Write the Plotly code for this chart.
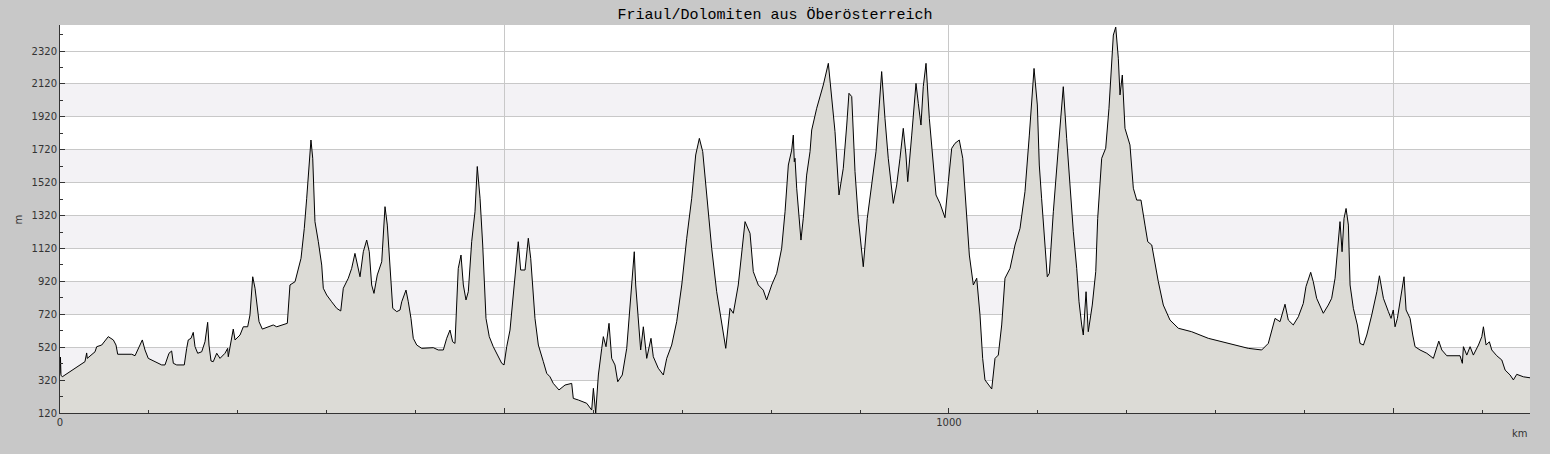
import plotly.graph_objects as go

title_text = "Friaul/Dolomiten aus Öberösterreich"

km = [0, 0.5, 1.1, 2.6, 5.6, 16.9, 28.1, 30.0, 30.7, 39.4, 41.3, 46.9, 52.5, 54.3, 60.0, 63.0, 64.9,
      80.7, 84.4, 90.0, 92.6, 95.6, 99.3, 106.9, 114.4, 118.1, 122.6, 125.6, 127.5, 131.3, 139.8,
      142.5, 144.3, 147.4, 149.9, 151.9, 154.9, 159.4, 163.1, 166.1, 167.6, 169.9, 172.4, 176.3,
      180.0, 185.6, 188.6, 189.3, 191.2, 194.9, 196.9, 202.5, 206.2, 211.1, 213.7, 216.8, 219.4,
      221.3, 223.9, 227.6, 234.3, 239.9, 243.8, 255.7, 258.7, 264.4, 271.1, 274.8, 277.5, 281.2,
      282.3, 284.3, 286.8, 290.6, 294.4, 296.2, 300.0, 305.6, 311.3, 315.8, 318.7, 324.3, 328.1,
      331.8, 334.4, 337.5, 341.2, 345.0, 347.9, 350.6, 353.2, 356.9, 361.9, 365.6, 368.2, 371.2,
      374.3, 378.8, 382.5, 384.4, 389.2, 391.8, 394.8, 397.4, 401.3, 406.9, 419.9, 425.5, 431.2,
      435.0, 438.7, 441.7, 444.3, 448.0, 451.1, 453.7, 456.7, 459.3, 463.1, 466.8, 469.4, 472.5,
      475.5, 479.2, 482.9, 487.4, 493.1, 496.9, 499.5, 502.5, 506.2, 511.8, 515.5, 518.2, 523.1,
      526.8, 529.5, 534.3, 538.1, 543.7, 547.5, 551.2, 554.9, 561.3, 568.1, 575.6, 577.4, 583.1,
      592.5, 598.1, 600.0, 602.6, 605.6, 609.4, 611.2, 614.2, 617.6, 620.6, 624.3, 627.4, 632.5,
      637.5, 642.3, 644.9, 646.0, 647.6, 650.5, 653.2, 656.2, 660.0, 664.8, 667.4, 673.0, 678.7,
      682.5, 688.1, 693.7, 699.4, 705.0, 710.6, 715.1, 719.2, 723.0, 727.5, 733.1, 738.7, 744.4,
      748.9, 753.7, 757.4, 763.0, 766.8, 770.6, 776.2, 779.9, 785.5, 791.1, 794.9, 800.6, 806.2,
      811.8, 815.6, 819.3, 823.1, 824.9, 826.0, 826.8, 828.7, 832.4, 833.5, 836.1, 839.9, 843.7,
      845.6, 851.2, 858.6, 864.3, 868.1, 871.8, 876.3, 881.1, 885.0, 887.5, 890.6, 894.3, 898.0,
      903.6, 908.1, 913.1, 917.9, 921.6, 924.3, 928.0, 931.7, 937.4, 941.2, 944.9, 948.6, 951.6,
      953.6, 958.1, 962.9, 965.5, 968.5, 971.1, 974.2, 977.9, 982.4, 985.4, 989.9, 995.5, 999.3,
      1003.1, 1006.8, 1011.6, 1015.5, 1020.0, 1022.9, 1027.4, 1031.2, 1034.9, 1037.9, 1040.5,
      1048.1, 1051.8, 1055.5, 1059.3, 1063.0, 1068.7, 1074.3, 1079.9, 1085.5, 1090.4, 1095.7,
      1099.4, 1101.6, 1104.2, 1108.0, 1110.6, 1112.9, 1117.4, 1123.0, 1128.6, 1132.4, 1136.1,
      1139.9, 1143.7, 1146.3, 1149.3, 1151.1, 1154.2, 1156.7, 1161.2, 1165.1, 1167.3, 1171.8,
      1176.3, 1180.0, 1184.9, 1187.6, 1190.5, 1192.4, 1195.0, 1198.0, 1203.6, 1207.4, 1211.2,
      1216.0, 1220.5, 1223.6, 1228.1, 1231.8, 1235.5, 1241.1, 1248.6, 1258.0, 1273.0, 1291.7,
      1314.2, 1336.7, 1351.8, 1359.2, 1366.8, 1372.4, 1378.0, 1381.7, 1387.3, 1393.0, 1398.6,
      1401.6, 1406.9, 1409.8, 1413.6, 1421.1, 1426.7, 1430.5, 1434.3, 1438.0, 1439.9, 1442.2,
      1444.4, 1446.7, 1449.3, 1451.2, 1454.9, 1459.4, 1462.4, 1466.2, 1470.0, 1475.6, 1481.3,
      1484.2, 1488.7, 1494.3, 1497.3, 1499.8, 1501.8, 1504.4, 1508.2, 1511.9, 1514.2, 1518.7,
      1521.7, 1524.3, 1529.9, 1537.5, 1544.9, 1548.7, 1551.0, 1554.4, 1560.0, 1574.9, 1577.5,
      1578.7, 1582.5, 1586.2, 1589.9, 1595.6, 1599.4, 1601.2, 1604.2, 1607.9, 1610.6, 1616.2,
      1621.9, 1625.6, 1631.2, 1634.9, 1638.7, 1646.2, 1653.6]

elev = [360, 460, 350, 340, 351, 392, 432, 485, 452, 492, 523, 533, 574, 584, 564, 533, 477,
        477, 468, 533, 564, 503, 452, 432, 412, 412, 483, 497, 422, 412, 412,
        513, 564, 574, 610, 523, 483, 492, 553, 671, 533, 436, 432, 483,
        452, 483, 513, 462, 523, 630, 564, 594, 644, 644, 716, 948, 878,
        796, 675, 630, 644, 655, 644, 665, 898, 918, 1060, 1242, 1425, 1668,
        1779, 1668, 1283, 1161, 1019, 878, 837, 796, 756, 740, 878, 939, 999,
        1090, 1030, 948, 1100, 1171, 1100, 898, 847, 959, 1039, 1374, 1262, 1019,
        756, 736, 746, 796, 867, 796, 695, 574, 533, 513, 517, 503, 503,
        574, 624, 553, 543, 999, 1080, 898, 807, 857, 1161, 1343, 1618, 1425,
        1141, 695, 584, 523, 462, 422, 412, 523, 624, 959, 1161, 989, 989,
        1182, 1060, 695, 533, 432, 361, 340, 300, 260, 290, 300, 209, 199,
        179, 138, 270, 120, 351, 513, 584, 523, 665, 452, 412, 310, 351,
        513, 817, 979, 1100, 898, 675, 503, 644, 452, 574, 462, 392, 351,
        452, 533, 675, 898, 1182, 1425, 1688, 1789, 1708, 1445, 1121, 857, 655,
        513, 756, 726, 898, 1100, 1283, 1212, 979, 898, 867, 807, 898, 969,
        1121, 1343, 1627, 1718, 1809, 1647, 1668, 1486, 1242, 1171, 1303, 1566, 1708,
        1840, 1972, 2113, 2245, 2053, 1830, 1445, 1607, 1870, 2063, 2043, 1587, 1303,
        1009, 1303, 1506, 1708, 1992, 2195, 1911, 1668, 1394, 1506, 1668, 1850, 1688,
        1526, 1809, 2123, 2002, 1870, 2103, 2245, 1911, 1627, 1445, 1394, 1307, 1526,
        1729, 1759, 1779, 1668, 1343, 1080, 898, 939, 716, 452, 321,
        266, 452, 472, 655, 939, 999, 1141, 1242, 1465, 1809, 2214,
        1992, 1627, 1425, 1121, 948, 969, 1343, 1729, 2103, 1789, 1506,
        1222, 999, 796, 655, 594, 857, 614, 776, 979, 1303, 1668,
        1729, 1972, 2417, 2465, 2276, 2053, 2174, 1850, 1749, 1486, 1414,
        1414, 1262, 1161, 1141, 1019, 918, 776, 685, 635, 614, 574,
        543, 513, 503, 543, 695, 675, 781, 685, 655, 705, 786,
        888, 975, 918, 817, 726, 776, 817, 939, 1141, 1283, 1100,
        1303, 1363, 1262, 898, 756, 655, 543, 533, 594, 716, 857,
        954, 817, 736, 695, 746, 644, 695, 837, 948, 746, 695,
        594, 523, 503, 483, 452, 513, 557, 503, 468, 468, 422,
        523, 472, 523, 472, 533, 584, 644, 533, 553, 503, 468,
        442, 381, 351, 321, 355, 340, 334]

y_ticks = [120, 320, 520, 720, 920, 1120, 1320, 1520, 1720, 1920, 2120, 2320]
x_tickvals = [0, 500, 1000, 1500]
x_ticktext = ["0", "", "1000", ""]
bands = [(320, 520), (720, 920), (1120, 1320), (1520, 1720), (1920, 2120)]

x_max = 1653.6
y_min, y_max = 120, 2478

fig = go.Figure()
fig.add_trace(go.Scatter(
    x=km, y=elev, mode="lines", fill="tozeroy",
    fillcolor="#dcdbd6", line=dict(color="#000000", width=1),
    hoverinfo="x+y", showlegend=False,
))

shapes = []
for lo, hi in bands:
    shapes.append(dict(type="rect", xref="paper", yref="y", x0=0, x1=1, y0=lo, y1=hi,
                       fillcolor="#f3f2f5", line=dict(width=0), layer="below"))

fig.update_layout(
    width=1550, height=454,
    paper_bgcolor="#c8c8c8", plot_bgcolor="#ffffff",
    margin=dict(l=60, r=20, t=25, b=41),
    shapes=shapes,
    title=dict(text=title_text, x=0.5, xanchor="center", y=1 - 14 / 454, yanchor="middle",
               font=dict(family="Liberation Mono", size=15, color="#000000")),
    xaxis=dict(range=[0, x_max], tickmode="array", tickvals=x_tickvals, ticktext=x_ticktext,
               ticks="inside", ticklen=5, tickcolor="#333333", showgrid=True,
               gridcolor="#c8c8c8", gridwidth=1, zeroline=False, showline=True,
               linecolor="#333333", linewidth=1,
               tickfont=dict(family="DejaVu Sans", size=10, color="#333333"),
               minor=dict(tickmode="linear", tick0=0, dtick=100, ticks="inside", ticklen=3,
                          tickcolor="#333333", showgrid=False)),
    yaxis=dict(range=[y_min, y_max], tickmode="array", tickvals=y_ticks,
               ticks="inside", ticklen=5, tickcolor="#333333", showgrid=True,
               gridcolor="#c8c8c8", gridwidth=1, zeroline=False, showline=True,
               linecolor="#333333", linewidth=1,
               tickfont=dict(family="DejaVu Sans", size=10, color="#333333"),
               minor=dict(tickmode="linear", tick0=20, dtick=100, ticks="inside", ticklen=3,
                          tickcolor="#333333", showgrid=False)),
    annotations=[
        dict(text="m", xref="paper", yref="paper", x=-50 / 1470, y=0.5, showarrow=False,
             textangle=-90, font=dict(family="DejaVu Sans", size=10, color="#333333")),
        dict(text="km", xref="paper", yref="paper", x=1.0, y=-20 / 388, xanchor="right",
             yanchor="middle", showarrow=False,
             font=dict(family="DejaVu Sans", size=10, color="#333333")),
    ],
)

fig.write_html(
    "out.html",
    config={"displayModeBar": False},
    post_script="document.body.style.margin='0';document.body.style.background='#c8c8c8';",
)
